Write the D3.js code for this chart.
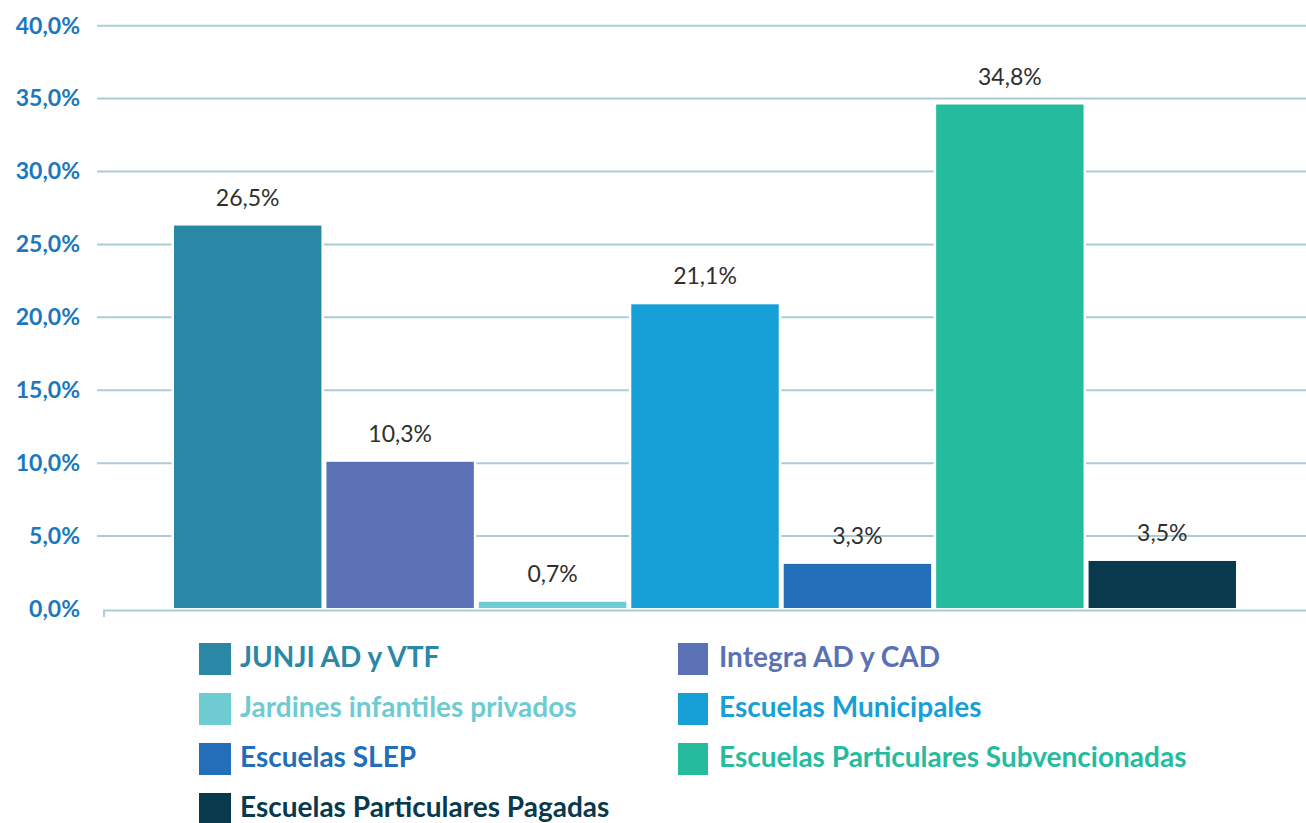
<!DOCTYPE html>
<html>
<head>
<meta charset="utf-8">
<script src="https://cdn.jsdelivr.net/npm/d3@7"></script>
<style>
    body { margin: 0; background: #fff; }
    svg { display: block; font-family: Lato, "Open Sans", sans-serif; }
</style>
</head>
<body>
<svg id="chart" width="1306" height="823"></svg>
<script>
// chart data
const categories = [
    'JUNJI AD y VTF',
    'Integra AD y CAD',
    'Jardines infantiles privados',
    'Escuelas Municipales',
    'Escuelas SLEP',
    'Escuelas Particulares Subvencionadas',
    'Escuelas Particulares Pagadas'
];
const values = [26.5, 10.3, 0.7, 21.1, 3.3, 34.8, 3.5];
const colors = ['#2b87a6', '#5a72b5', '#6ecbd2', '#17a0d8', '#236eb8', '#25bc9e', '#08394c'];
const yTicks = [0, 5, 10, 15, 20, 25, 30, 35, 40];

const locale = d3.formatLocale({decimal: ',', thousands: '.', grouping: [3], currency: ['', '']});
const fmt = locale.format('.1f');

const svg = d3.select('#chart');

const x = d3.scaleBand().domain(categories).range([171.5, 1238.5]).paddingInner(0).paddingOuter(0);
const y = d3.scaleLinear().domain([0, 40]).range([609, 25.7]);

//grid lines
svg.append('g')
    .selectAll('line')
    .data(yTicks.filter(d => d > 0))
    .enter().append('line')
    .attr('x1', 97).attr('x2', 1306)
    .attr('y1', d => y(d)).attr('y2', d => y(d))
    .attr('stroke', '#a9cdd5')
    .attr('stroke-width', 2);

//y axis labels
const yAxis = svg.append('g')
    .attr('transform', 'translate(80,0)')
    .call(d3.axisLeft(y).tickValues(yTicks).tickSize(0).tickPadding(0).tickFormat(d => fmt(d) + '%'));
yAxis.select('.domain').remove();
yAxis.selectAll('text')
    .attr('fill', '#1b78be')
    .attr('font-size', 23)
    .attr('font-weight', 700)
    .attr('font-family', 'Lato, sans-serif');

//white backing so the grid stops short of the bars
svg.append('g')
    .selectAll('rect')
    .data(values)
    .enter().append('rect')
    .attr('x', (d, i) => x(categories[i]))
    .attr('y', d => y(d) - 1)
    .attr('width', x.bandwidth())
    .attr('height', d => y(0) - y(d) + 1)
    .attr('fill', '#fff');

//bars
const inset = 2.5;
svg.append('g')
    .selectAll('rect')
    .data(values)
    .enter().append('rect')
    .attr('x', (d, i) => x(categories[i]) + inset)
    .attr('y', d => y(d) + 3)
    .attr('width', x.bandwidth() - inset * 2)
    .attr('height', d => y(0) - y(d) - 4)
    .attr('fill', (d, i) => colors[i]);

//baseline with small tick at the left
svg.append('path')
    .attr('d', 'M104,617V610.5H1306')
    .attr('fill', 'none')
    .attr('stroke', '#a9cdd5')
    .attr('stroke-width', 2);

//value labels
svg.append('g')
    .selectAll('text')
    .data(values)
    .enter().append('text')
    .attr('x', (d, i) => x(categories[i]) + x.bandwidth() / 2)
    .attr('y', d => y(d) - 17)
    .attr('text-anchor', 'middle')
    .attr('font-size', 23)
    .attr('fill', '#2f2f2f')
    .text(d => fmt(d) + '%');

//legend, two columns filled row by row
const legendCols = [199, 678];
const legendTextX = [240, 719];
const legendRowY = 643;
const legendRowStep = 50;
const legend = svg.append('g')
    .selectAll('g')
    .data(categories)
    .enter().append('g')
    .attr('transform', (d, i) => 'translate(0,' + (legendRowY + Math.floor(i / 2) * legendRowStep) + ')');

legend.append('rect')
    .attr('x', (d, i) => legendCols[i % 2])
    .attr('y', 0)
    .attr('width', (d, i) => i % 2 ? 30 : 32)
    .attr('height', 32)
    .attr('fill', (d, i) => colors[i]);

legend.append('text')
    .attr('x', (d, i) => legendTextX[i % 2])
    .attr('y', 24)
    .attr('font-size', 28)
    .attr('font-weight', 700)
    .attr('fill', (d, i) => colors[i])
    .text(d => d);
</script>
</body>
</html>
